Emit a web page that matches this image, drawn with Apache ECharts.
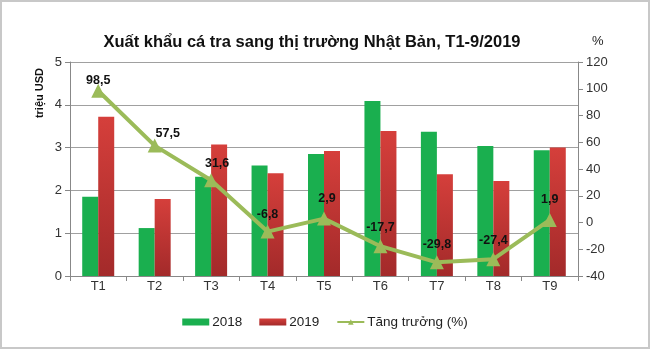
<!DOCTYPE html>
<html><head><meta charset="utf-8">
<script src="https://cdn.jsdelivr.net/npm/echarts@6/dist/echarts.min.js"></script>
<style>
html,body{margin:0;padding:0;background:#fff;}
#c{width:650px;height:349px;box-sizing:border-box;border:2px solid #c8c8c8;}
</style></head>
<body><div id="c"></div>
<script>
const categories = ['T1','T2','T3','T4','T5','T6','T7','T8','T9'];
const values2018 = [1.85,1.12,2.32,2.58,2.85,4.09,3.37,3.04,2.94];
const values2019 = [3.72,1.80,3.07,2.40,2.92,3.39,2.38,2.22,3.00];
const growth = [98.5,57.5,31.6,-6.8,2.9,-17.7,-29.8,-27.4,1.9];
const growthLabels = ['98,5','57,5','31,6','-6,8','2,9','-17,7','-29,8','-27,4','1,9'];

// label nudges (style only)
const labelNudge = [[0,6],[13,4],[6,0],[0,-1],[3,-4],[0,-2],[0,-1],[0,-2],[0,-4]];

const chart = echarts.init(document.getElementById('c'));
const font = 'Liberation Sans, Arial, sans-serif';
chart.setOption({
  animation:false,
  textStyle:{fontFamily:font},
  title:{text:'Xuất khẩu cá tra sang thị trường Nhật Bản, T1-9/2019',left:305,top:27,textAlign:'center',
    textStyle:{fontSize:16.5,fontWeight:'bold',color:'#111',fontFamily:font}},
  graphic:[{type:'text',left:32,top:66,rotation:Math.PI/2,
    style:{text:'triệu USD',font:'bold 11px Liberation Sans, Arial, sans-serif',fill:'#111'}}],
  grid:{left:68,right:70,top:60,bottom:71},
  legend:{bottom:13,left:'center',itemGap:17,itemWidth:27,itemHeight:7,
    textStyle:{fontSize:13.5,color:'#222',fontFamily:font,padding:[0,0,0,-2]},
    data:[{name:'2018',icon:'rect'},{name:'2019',icon:'rect'},{name:'Tăng trưởng (%)'}]},
  xAxis:{type:'category',data:categories,
    axisLine:{lineStyle:{color:'#888'}},
    axisTick:{show:true,lineStyle:{color:'#888'}},
    axisLabel:{fontSize:13,color:'#333',margin:4}},
  yAxis:[
    {type:'value',min:0,max:5,interval:1,
      axisLine:{show:true,lineStyle:{color:'#888'}},axisTick:{show:true,lineStyle:{color:'#888'}},
      axisLabel:{fontSize:13,color:'#333'},
      splitLine:{lineStyle:{color:'#a0a0a0'}}},
    {type:'value',min:-40,max:120,interval:20,name:'%',nameGap:14,
      nameTextStyle:{fontSize:13,color:'#222',align:'left',padding:[0,0,0,14]},
      axisLine:{show:true,lineStyle:{color:'#888'}},axisTick:{show:true,lineStyle:{color:'#888'}},
      axisLabel:{fontSize:13,color:'#333'},splitLine:{show:false}}
  ],
  series:[
    {name:'2018',type:'bar',data:values2018,barWidth:16,barGap:'0%',
      itemStyle:{color:'#1AAF4F'}},
    {name:'2019',type:'bar',data:values2019,barWidth:16,
      itemStyle:{color:new echarts.graphic.LinearGradient(0,0,0,1,[{offset:0,color:'#D53F3B'},{offset:1,color:'#A32A2A'}])}},
    {name:'Tăng trưởng (%)',type:'line',yAxisIndex:1,
      data:growth.map((v,i)=>({value:v,label:{offset:labelNudge[i]}})),
      symbol:'triangle',symbolSize:14,
      lineStyle:{color:'#9BBB59',width:4},itemStyle:{color:'#9BBB59'},
      label:{show:true,position:'top',distance:3,fontSize:12.5,fontWeight:'bold',color:'#111',
        formatter:p=>growthLabels[p.dataIndex]}}
  ]
});
</script></body></html>
